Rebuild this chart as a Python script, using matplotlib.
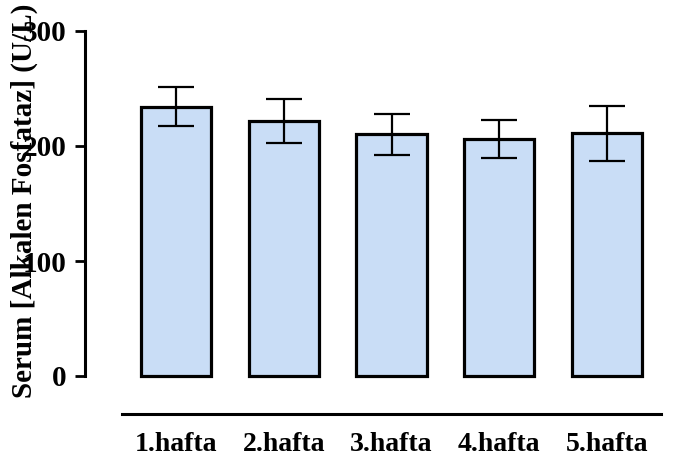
import numpy as np
from matplotlib import pyplot as plt

#settimane
gruppi = ['1.hafta', '2.hafta', '3.hafta', '4.hafta', '5.hafta']

#media e errore (U/L)
media = np.array([234, 222, 210, 206, 211])
errore = np.array([17, 19, 17.5, 16.5, 24])

plt.rcParams['font.family'] = ['Liberation Serif', 'DejaVu Serif']
plt.rcParams['font.weight'] = 'bold'

fig = plt.figure(figsize=(6.86, 4.68), dpi=100)
ax = fig.add_axes([122/686, 92/468, 539/686, 345/468])

x = np.arange(len(gruppi))
ax.bar(x, media, width=0.65, color='#c9ddf6', edgecolor='black', linewidth=2.3,
       clip_on=False, zorder=2)
ax.errorbar(x, media, yerr=errore, fmt='none', ecolor='black', elinewidth=1.6,
            capsize=13, capthick=1.6, clip_on=False, zorder=3)

ax.set_xlim(-0.5, 4.5)
ax.set_ylim(0, 300)
ax.set_yticks([0, 100, 200, 300])
ax.set_xticks(x)
ax.set_xticklabels(gruppi)

#assi staccati stile prism
ax.spines['top'].set_visible(False)
ax.spines['right'].set_visible(False)
ax.spines['left'].set_position(('outward', 27))
ax.spines['bottom'].set_position(('outward', 27))
ax.spines['left'].set_bounds(0, 300)
ax.spines['left'].set_linewidth(2.2)
ax.spines['bottom'].set_linewidth(2.2)

ax.tick_params(axis='y', length=7, width=2, pad=6, labelsize=21)
ax.tick_params(axis='x', length=0, pad=13, labelsize=20)

fig.text(24/686, 0.5705, 'Serum [Alkalen Fosfataz] (U/L)', rotation=90,
         ha='center', va='center', fontsize=21, fontweight='bold')

plt.savefig('out.png', dpi=100)
